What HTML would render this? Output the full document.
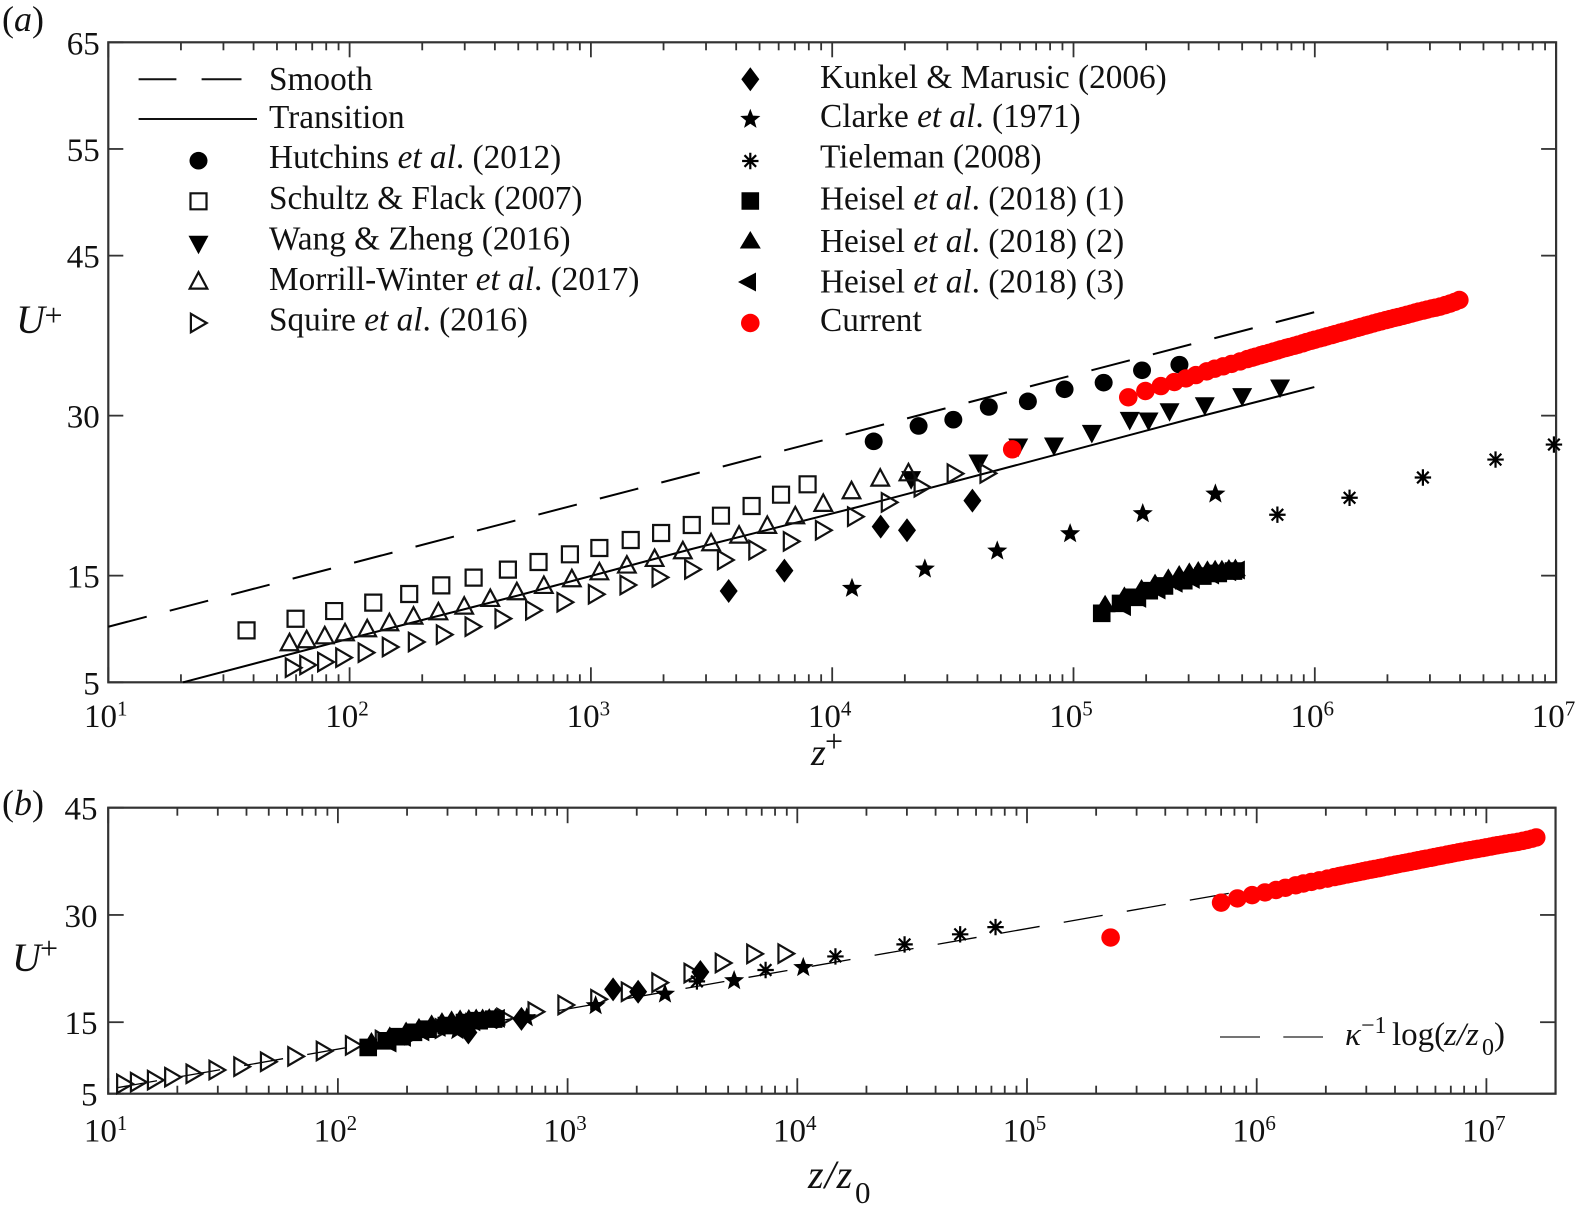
<!DOCTYPE html>
<html lang="en">
<head>
<meta charset="utf-8">
<title>Velocity profiles U+ against z+ and z/z0</title>
<style>
html,body{margin:0;padding:0;background:#fff;width:1577px;height:1215px;overflow:hidden}
svg{position:absolute;left:0;top:0;display:block}
text{font-family:"Liberation Serif","DejaVu Serif",serif;fill:#111;font-size:33px}
.i{font-style:italic}
.lg text,text.lg{font-size:33.3px}
</style>
</head>
<body>
<svg id="figure" width="1577" height="1215" viewBox="0 0 1577 1215" xmlns="http://www.w3.org/2000/svg">
  <text x="2" y="31" style="font-size:36px">(<tspan class="i">a</tspan>)</text>
  <text x="2" y="815" style="font-size:36px">(<tspan class="i">b</tspan>)</text>

  <g>
    <text x="16" y="333" class="i" style="font-size:40px">U</text>
    <text x="44.5" y="326" style="font-size:32px">+</text>
  </g>
  <g>
    <text x="811" y="765" class="i" style="font-size:38px">z</text>
    <text x="825" y="752" style="font-size:32px">+</text>
  </g>
  <g>
    <text x="12" y="971" class="i" style="font-size:40px">U</text>
    <text x="40" y="959" style="font-size:32px">+</text>
  </g>
  <g>
    <text x="808" y="1188" class="i" style="font-size:40px;letter-spacing:1px">z/z</text>
    <text x="855" y="1203" style="font-size:31px">0</text>
  </g>

  <g id="panelA"></g>
  <g id="panelB"></g>

  <g class="lg">
    <g>
      <line x1="138.6" y1="79.3" x2="176.4" y2="79.3" stroke="#111" stroke-width="2"/>
      <line x1="201.6" y1="79.3" x2="241.5" y2="79.3" stroke="#111" stroke-width="2"/>
      <text x="269" y="90">Smooth</text>
    </g>
    <g>
      <line x1="138.6" y1="119" x2="257" y2="119" stroke="#111" stroke-width="2"/>
      <text x="269" y="128">Transition</text>
    </g>
    <text x="269" y="168">Hutchins <tspan class="i">et al</tspan>. (2012)</text>
    <text x="269" y="209">Schultz &amp; Flack (2007)</text>
    <text x="269" y="249.5">Wang &amp; Zheng (2016)</text>
    <text x="269" y="290">Morrill-Winter <tspan class="i">et al</tspan>. (2017)</text>
    <text x="269" y="330.5">Squire <tspan class="i">et al</tspan>. (2016)</text>
    <text x="820" y="88">Kunkel &amp; Marusic (2006)</text>
    <text x="820" y="127">Clarke <tspan class="i">et al</tspan>. (1971)</text>
    <text x="820" y="167.5">Tieleman (2008)</text>
    <text x="820" y="209.5">Heisel <tspan class="i">et al</tspan>. (2018) (1)</text>
    <text x="820" y="252">Heisel <tspan class="i">et al</tspan>. (2018) (2)</text>
    <text x="820" y="292.5">Heisel <tspan class="i">et al</tspan>. (2018) (3)</text>
    <text x="820" y="331">Current</text>
    <g id="legendMarkers"></g>
  </g>

  <g>
    <line x1="1220" y1="1037" x2="1260" y2="1037" stroke="#222" stroke-width="1.3"/>
    <line x1="1283.3" y1="1037" x2="1323" y2="1037" stroke="#222" stroke-width="1.3"/>
    <text x="1345" y="1045" class="i">κ</text>
    <text x="1361" y="1033" style="font-size:24px">−1</text>
    <text x="1392" y="1045">log(</text>
    <text x="1444" y="1045" class="i">z/z</text>
    <text x="1482" y="1055" style="font-size:24px">0</text>
    <text x="1494" y="1045">)</text>
  </g>
</svg>

<script>
// ---- chart data (log10 of wall distance, and U+) ----
const xTickExponents = [1, 2, 3, 4, 5, 6, 7];
const yTicksPanelA = [5, 15, 30, 45, 55, 65];
const yTicksPanelB = [5, 15, 30, 45];

const smoothLogZ = [1, 6];
const smoothU = [10.21, 39.71];
const transitionLogZ = [1.31, 2, 2.7, 3.41, 4.1, 4.695, 5.469, 5.998];
const transitionU = [5, 9.1, 13.15, 17.45, 21.4, 24.95, 29.6, 32.68];
const logLawLogZ = [1.043, 5.88];
const logLawU = [5.86, 33.03];

const hutchinsLogZ = [4.172, 4.358, 4.502, 4.649, 4.811, 4.963, 5.125, 5.284, 5.439];
const hutchinsU = [27.59, 29.03, 29.62, 30.81, 31.34, 32.47, 33.09, 34.25, 34.78];

const schultzLogZ = [1.573, 1.776, 1.936, 2.098, 2.247, 2.38, 2.514, 2.656, 2.783, 2.913, 3.035, 3.165, 3.291, 3.418, 3.539, 3.666, 3.788, 3.898];
const schultzU = [9.87, 10.96, 11.68, 12.47, 13.28, 14.09, 14.81, 15.56, 16.28, 17.0, 17.59, 18.34, 19.0, 19.75, 20.62, 21.53, 22.59, 23.56];

const wangLogZ = [4.327, 4.606, 4.771, 4.919, 5.076, 5.233, 5.311, 5.398, 5.544, 5.699, 5.856];
const wangU = [23.97, 25.53, 27.03, 27.12, 28.31, 29.53, 29.47, 30.34, 30.9, 31.75, 32.56];

const morrillLogZ = [1.751, 1.822, 1.897, 1.981, 2.073, 2.165, 2.265, 2.368, 2.475, 2.583, 2.693, 2.805, 2.921, 3.035, 3.149, 3.264, 3.381, 3.498, 3.614, 3.731, 3.847, 3.963, 4.08, 4.199, 4.316];
const morrillU = [8.72, 9.0, 9.37, 9.65, 10.03, 10.59, 11.21, 11.62, 12.15, 12.87, 13.5, 14.09, 14.72, 15.37, 16.0, 16.62, 17.34, 18.09, 18.81, 19.72, 20.62, 21.78, 22.97, 24.15, 24.65];

const squireLogZ = [1.767, 1.827, 1.901, 1.976, 2.069, 2.169, 2.277, 2.393, 2.512, 2.636, 2.763, 2.893, 3.023, 3.154, 3.287, 3.422, 3.558, 3.688, 3.831, 3.964, 4.097, 4.237, 4.373, 4.51, 4.646];
const squireU = [6.37, 6.62, 6.9, 7.31, 7.78, 8.31, 8.78, 9.47, 10.22, 10.97, 11.75, 12.5, 13.25, 14.12, 14.84, 15.59, 16.47, 17.4, 18.21, 19.25, 20.53, 21.87, 23.28, 24.56, 24.59];

const kunkelLogZ = [3.571, 3.802, 4.201, 4.31, 4.581];
const kunkelU = [13.56, 15.47, 19.59, 19.25, 22.03];

const clarkeLogZ = [4.082, 4.384, 4.684, 4.986, 5.287, 5.588];
const clarkeU = [13.81, 15.62, 17.31, 18.93, 20.81, 22.65];

const tielemanLogZ = [5.845, 6.144, 6.448, 6.749, 6.991, 7.145];
const tielemanU = [20.71, 22.3, 24.2, 25.88, 27.29, 28.3];

const heisel1LogZ = [5.117, 5.195, 5.251, 5.314, 5.377, 5.457, 5.536, 5.6, 5.663];
const heisel1U = [11.47, 12.4, 12.97, 13.59, 14.03, 14.53, 14.96, 15.21, 15.43];

const heisel2LogZ = [5.131, 5.211, 5.282, 5.338, 5.393, 5.438, 5.48, 5.517, 5.555, 5.587, 5.615, 5.644, 5.671];
const heisel2U = [12.37, 13.15, 13.84, 14.34, 14.84, 15.15, 15.4, 15.53, 15.59, 15.65, 15.65, 15.71, 15.75];

const heisel3LogZ = [5.203, 5.266, 5.346, 5.417, 5.488, 5.568, 5.639, 5.675];
const heisel3U = [12.09, 12.87, 13.65, 14.28, 14.65, 15.06, 15.37, 15.53];

const currentLogZ = [4.746, 5.227, 5.298, 5.362, 5.418, 5.466, 5.507, 5.552, 5.585, 5.62, 5.655, 5.69, 5.72, 5.74, 5.755, 5.775, 5.79, 5.81, 5.828, 5.845, 5.86, 5.88, 5.895, 5.915, 5.93, 5.95, 5.966, 5.985, 6.0, 6.02, 6.035, 6.05, 6.07, 6.085, 6.104, 6.12, 6.14, 6.155, 6.175, 6.19, 6.21, 6.225, 6.242, 6.26, 6.275, 6.295, 6.311, 6.33, 6.345, 6.365, 6.381, 6.4, 6.415, 6.43, 6.449, 6.465, 6.485, 6.5, 6.519, 6.54, 6.56, 6.58, 6.599];
const currentU = [26.84, 31.72, 32.31, 32.77, 33.15, 33.49, 33.8, 34.15, 34.4, 34.62, 34.85, 35.08, 35.3, 35.43, 35.53, 35.66, 35.76, 35.88, 36.0, 36.11, 36.22, 36.34, 36.43, 36.55, 36.65, 36.78, 36.9, 37.02, 37.12, 37.24, 37.33, 37.43, 37.55, 37.65, 37.77, 37.87, 37.99, 38.09, 38.22, 38.31, 38.44, 38.53, 38.64, 38.75, 38.84, 38.96, 39.05, 39.16, 39.24, 39.35, 39.45, 39.56, 39.66, 39.75, 39.85, 39.94, 40.05, 40.12, 40.22, 40.36, 40.5, 40.66, 40.84];

// log10(z0+) of each data set: z/z0 = z+ / z0+
const squireLogZ0 = 0.695;
const kunkelLogZ0 = 1.003;
const clarkeLogZ0 = 1.562;
const tielemanLogZ0 = 2.282;
const heiselLogZ0 = 2.985;
const currentLogZ0 = -0.618;

// ---- drawing ----
const NS = 'http://www.w3.org/2000/svg';
function make(parent, tag, attrs) {
  const el = document.createElementNS(NS, tag);
  for (const k in attrs) el.setAttribute(k, attrs[k]);
  parent.appendChild(el);
  return el;
}
function polar(n, r1, r2) {
  let d = '';
  for (let i = 0; i < n * 2; i++) {
    const a = -Math.PI / 2 + i * Math.PI / n;
    const r = i % 2 ? r2 : r1;
    d += (i ? 'L' : 'M') + (r * Math.cos(a)).toFixed(2) + ' ' + (r * Math.sin(a)).toFixed(2);
  }
  return d + 'Z';
}
const shapes = {
  circle: { d: 'M-9 0A9 8.8 0 1 1 9 0A9 8.8 0 1 1-9 0Z', fill: '#000' },
  redCircle: { d: 'M-9.3 0A9.3 9.2 0 1 1 9.3 0A9.3 9.2 0 1 1-9.3 0Z', fill: '#f00' },
  openSquare: { d: 'M-8-8H8V8H-8Z', open: true },
  openUp: { d: 'M0-8.8L8.8 7.6H-8.8Z', open: true },
  openRight: { d: 'M-7.6-9.2L8.2 0L-7.6 9.2Z', open: true },
  down: { d: 'M-10-8.8H10L0 9.8Z', fill: '#000' },
  up: { d: 'M-10.5 8.5H10.5L0-9Z', fill: '#000' },
  left: { d: 'M8.5-9.5V9.5L-9.5 0Z', fill: '#000' },
  square: { d: 'M-8.8-8.8H8.8V8.8H-8.8Z', fill: '#000' },
  diamond: { d: 'M0-12L9 0L0 12L-9 0Z', fill: '#000' },
  star: { d: polar(5, 10.6, 4.5), fill: '#000' },
  asterisk: { d: 'M0-8.2V8.2M-8.2 0H8.2M-5.8-5.8L5.8 5.8M-5.8 5.8L5.8-5.8', stroke: true }
};
function drawMarker(parent, kind, x, y) {
  const s = shapes[kind];
  const attrs = { d: s.d, transform: 'translate(' + x.toFixed(2) + ' ' + y.toFixed(2) + ')' };
  if (s.open) { attrs.fill = 'none'; attrs.stroke = '#111'; attrs['stroke-width'] = 2.2; }
  else if (s.stroke) { attrs.fill = 'none'; attrs.stroke = '#000'; attrs['stroke-width'] = 2.2; }
  else { attrs.fill = s.fill; }
  return make(parent, 'path', attrs);
}

const panelA = { x0: 108.3, decade: 241.3, xMax: 7, yTop: 42.3, yBottom: 682.3, uMin: 5, uMax: 65, major: 15, minor: 8 };
const panelB = { x0: 108.2, decade: 229.7, xMax: Math.log10(2e7), yTop: 807.7, yBottom: 1093.7, uMin: 5, uMax: 45, major: 15.5, minor: 8 };
function xAt(p, logZ) { return p.x0 + (logZ - 1) * p.decade; }
function yAt(p, u) { return p.yBottom - (u - p.uMin) * (p.yBottom - p.yTop) / (p.uMax - p.uMin); }

function drawAxes(group, p, yTicks, prefix, labelRightEdge, xLabelBaseline) {
  const axisRight = xAt(p, p.xMax);
  const frame = make(group, 'rect', { x: p.x0, y: p.yTop, width: axisRight - p.x0, height: p.yBottom - p.yTop, fill: 'none', stroke: '#333', 'stroke-width': 2.2 });
  
  
  const tickColor = '#333';
  xTickExponents.forEach(function (exp) {
    for (let m = 1; m <= 9; m++) {
      const lx = exp + Math.log10(m);
      if (lx > p.xMax + 1e-6) break;
      const len = m === 1 ? p.major : p.minor;
      const X = xAt(p, lx);
      const b = make(group, 'line', { x1: X, x2: X, y1: p.yBottom, y2: p.yBottom - len, stroke: tickColor, 'stroke-width': 1.8 });
      
      
      const t = make(group, 'line', { x1: X, x2: X, y1: p.yTop, y2: p.yTop + len, stroke: tickColor, 'stroke-width': 1.8 });
      
      
    }
    const X = xAt(p, exp);
    const base = make(group, 'text', { x: X - 24.3, y: xLabelBaseline });
    base.textContent = '10';
    
    
    const sup = make(group, 'text', { x: X + 8.7, y: xLabelBaseline - 11.5, style: 'font-size:21px' });
    sup.textContent = String(exp);
    
    
  });
  yTicks.forEach(function (u) {
    const Y = yAt(p, u);
    const l = make(group, 'line', { x1: p.x0, x2: p.x0 + p.major, y1: Y, y2: Y, stroke: tickColor, 'stroke-width': 1.8 });
    
    
    const r = make(group, 'line', { x1: axisRight, x2: axisRight - p.major, y1: Y, y2: Y, stroke: tickColor, 'stroke-width': 1.8 });
    
    
    const txt = make(group, 'text', { x: labelRightEdge, y: Y + 12, 'text-anchor': 'end' });
    txt.textContent = String(u);
    
    
  });
}

function drawLine(group, p, logZ, u, name, width, dash) {
  const pts = logZ.map(function (v, i) { return xAt(p, v).toFixed(2) + ',' + yAt(p, u[i]).toFixed(2); }).join(' ');
  const attrs = { points: pts, fill: 'none', stroke: '#000', 'stroke-width': width };
  if (dash) attrs['stroke-dasharray'] = dash;
  const el = make(group, 'polyline', attrs);
  
  
}

function drawSeries(group, p, logZ, u, kind, name, shift) {
  const g = make(group, 'g', {});
  
  
  logZ.forEach(function (v, i) {
    const lx = v - shift;
    if (lx < 1 || lx > p.xMax) return;
    const el = drawMarker(g, kind, xAt(p, lx), yAt(p, u[i]));
    
    
  });
}

// panel a
const gA = document.getElementById('panelA');
drawAxes(gA, panelA, yTicksPanelA, 'panel-a', 99.8, 727);
drawLine(gA, panelA, smoothLogZ, smoothU, 'smooth-wall-line', 2, '39.7 23.8');
drawLine(gA, panelA, transitionLogZ, transitionU, 'transition-line', 2, null);
drawSeries(gA, panelA, hutchinsLogZ, hutchinsU, 'circle', 'hutchins', 0);
drawSeries(gA, panelA, schultzLogZ, schultzU, 'openSquare', 'schultz', 0);
drawSeries(gA, panelA, wangLogZ, wangU, 'down', 'wang', 0);
drawSeries(gA, panelA, morrillLogZ, morrillU, 'openUp', 'morrill', 0);
drawSeries(gA, panelA, squireLogZ, squireU, 'openRight', 'squire', 0);
drawSeries(gA, panelA, kunkelLogZ, kunkelU, 'diamond', 'kunkel', 0);
drawSeries(gA, panelA, clarkeLogZ, clarkeU, 'star', 'clarke', 0);
drawSeries(gA, panelA, tielemanLogZ, tielemanU, 'asterisk', 'tieleman', 0);
drawSeries(gA, panelA, heisel1LogZ, heisel1U, 'square', 'heisel-1', 0);
drawSeries(gA, panelA, heisel2LogZ, heisel2U, 'up', 'heisel-2', 0);
drawSeries(gA, panelA, heisel3LogZ, heisel3U, 'left', 'heisel-3', 0);
drawSeries(gA, panelA, currentLogZ, currentU, 'redCircle', 'current', 0);

// panel b
const gB = document.getElementById('panelB');
drawAxes(gB, panelB, yTicksPanelB, 'panel-b', 97.5, 1141.7);
drawLine(gB, panelB, logLawLogZ, logLawU, 'log-law-line', 1.3, '39.5 24.5');
drawSeries(gB, panelB, squireLogZ, squireU, 'openRight', 'squire-scaled', squireLogZ0);
drawSeries(gB, panelB, kunkelLogZ, kunkelU, 'diamond', 'kunkel-scaled', kunkelLogZ0);
drawSeries(gB, panelB, clarkeLogZ, clarkeU, 'star', 'clarke-scaled', clarkeLogZ0);
drawSeries(gB, panelB, tielemanLogZ, tielemanU, 'asterisk', 'tieleman-scaled', tielemanLogZ0);
drawSeries(gB, panelB, heisel1LogZ, heisel1U, 'square', 'heisel-1-scaled', heiselLogZ0);
drawSeries(gB, panelB, heisel2LogZ, heisel2U, 'up', 'heisel-2-scaled', heiselLogZ0);
drawSeries(gB, panelB, heisel3LogZ, heisel3U, 'left', 'heisel-3-scaled', heiselLogZ0);
drawSeries(gB, panelB, currentLogZ, currentU, 'redCircle', 'current-scaled', currentLogZ0);

// legend symbols
const lg = document.getElementById('legendMarkers');
[
  ['circle', 198.5, 160.7], ['openSquare', 198.5, 201.3], ['down', 198.5, 244.5],
  ['openUp', 198.5, 281], ['openRight', 198.5, 323],
  ['diamond', 750.3, 79.3], ['star', 750.3, 119.3], ['asterisk', 750.3, 161],
  ['square', 750.3, 201], ['up', 750.3, 240], ['left', 747.5, 282], ['redCircle', 750.3, 323]
].forEach(function (m) {
  const el = drawMarker(lg, m[0], m[1], m[2]);
  
  
});
</script>
</body>
</html>
